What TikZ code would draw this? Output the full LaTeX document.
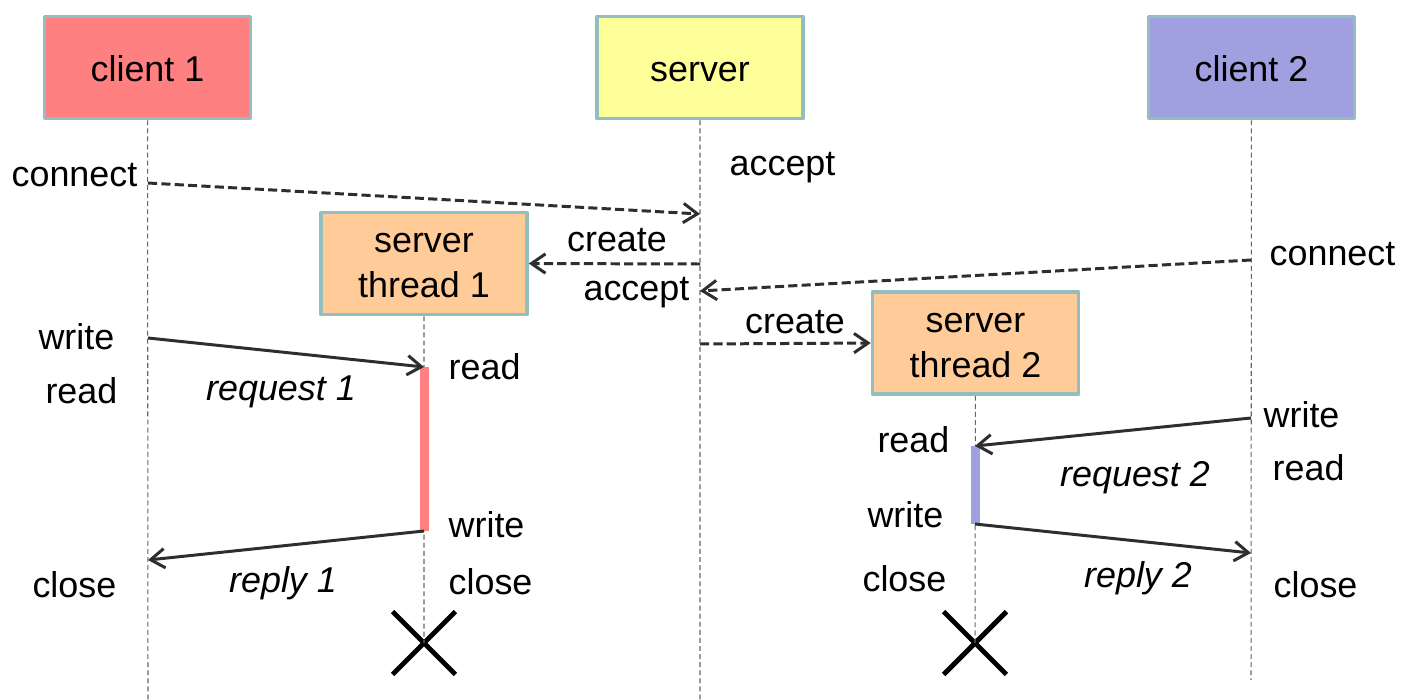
\documentclass[tikz,border=0pt]{standalone}
\usepackage{fontspec}
\setmainfont{Liberation Sans}
\usetikzlibrary{arrows.meta,shapes.misc}
\definecolor{boxedge}{RGB}{147,190,190}
\definecolor{cliA}{RGB}{255,128,128}
\definecolor{srvfill}{RGB}{255,255,153}
\definecolor{cliB}{RGB}{160,160,224}
\definecolor{thrfill}{RGB}{255,204,153}
\begin{document}
\begin{tikzpicture}[x=0.01cm,y=-0.01cm,font=\fontsize{10.2}{12.8}\selectfont,line join=round,
		obj/.style={draw=boxedge,line width=1pt,minimum width=2.06cm,minimum height=1.02cm,align=center,inner sep=0pt,text height=10.4pt,text depth=2.2pt},
		thr/.style={obj,fill=thrfill,text height=21.8pt},
		life/.style={draw=black!60,line width=0.3pt,dash pattern=on 1.4pt off 0.9pt},
		msg/.style={draw=black!82,line width=0.85pt,-{Straight Barb[length=4pt,width=5.5pt]}},
		call/.style={msg,dash pattern=on 2.6pt off 1.2pt},
		lbl/.style={inner sep=0pt},
		kill/.style={draw,cross out,line width=1.4pt,minimum size=0.58cm,inner sep=0pt}]
	\useasboundingbox (0,0) rectangle (1412,700);
	% objects
	\node[obj,fill=cliA] (c1) at (147.5,67.5) {client 1};
	\node[obj,fill=srvfill] (srv) at (700,67.5) {server};
	\node[obj,fill=cliB] (c2) at (1251.5,67.5) {client 2};
	\node[thr] (t1) at (424,263.5) {server\\thread 1};
	\node[thr] (t2) at (975.5,343) {server\\thread 2};
	\node[kill] (x1) at (424,643) {};
	\node[kill] (x2) at (975,643) {};
	% lifelines
	\coordinate (c1end) at (148,700);
	\coordinate (srvend) at (700,700);
	\coordinate (c2end) at (1251,680);
	\draw[life] (c1) -- (c1end) (srv) -- (srvend) (c2) -- (c2end);
	\draw[life] (t1) -- (x1.center) (t2) -- (x2.center);
	% message ends
	\coordinate (conA) at (148,183);  \coordinate (accA) at (700,214);
	\coordinate (creA) at (700,264);
	\coordinate (conB) at (1251,260); \coordinate (accB) at (700,291);
	\coordinate (creB) at (700,344);
	\coordinate (wrA) at (148,338);   \coordinate (rdA) at (424,367);
	\coordinate (wrA2) at (424,531);  \coordinate (rdA2) at (148,560);
	\coordinate (wrB) at (1251,418);  \coordinate (rdB) at (975,446);
	\coordinate (wrB2) at (975,524);  \coordinate (rdB2) at (1251,553);
	% activations
	\draw[cliA,line width=0.09cm] (rdA) -- (wrA2);
	\draw[cliB,line width=0.09cm] (rdB) -- (wrB2);
	% messages
	\draw[call] (conA) -- (accA);
	\draw[call] (creA) -- (t1.east);
	\draw[call] (conB) -- (accB);
	\draw[call] (creB) -- (t2.west);
	\draw[msg] (wrA) -- (rdA);
	\draw[msg] (wrA2) -- (rdA2);
	\draw[msg] (wrB) -- (rdB);
	\draw[msg] (wrB2) -- (rdB2);
	% labels
	\node[lbl,anchor=base east] (lconA) at (138,186) {connect};
	\node[lbl,anchor=base west] (laccA) at (729,175) {accept};
	\node[lbl,anchor=base] (lcreA) at (617,251) {create};
	\node[lbl,anchor=base east] (laccB) at (690,300) {accept};
	\node[lbl,anchor=base west] (lconB) at (1269,265) {connect};
	\node[lbl,anchor=base] (lcreB) at (795,333) {create};
	\node[lbl,anchor=base east] (lwrA) at (115,349) {write};
	\node[lbl,anchor=base east] (lrdA2) at (118,403) {read};
	\node[lbl,anchor=base east] (lclA) at (117,597) {close};
	\node[lbl,anchor=base west] (lrdA) at (448,379) {read};
	\node[lbl,anchor=base west] (lwrA2) at (448,537) {write};
	\node[lbl,anchor=base west] (lclT1) at (448,594) {close};
	\node[lbl,anchor=base] (lreqA) at (281,400) {\itshape request 1};
	\node[lbl,anchor=base] (lrepA) at (283,592) {\itshape reply 1};
	\node[lbl,anchor=base east] (lrdB) at (950,452) {read};
	\node[lbl,anchor=base east] (lwrB2) at (944,527) {write};
	\node[lbl,anchor=base east] (lclT2) at (947,591) {close};
	\node[lbl,anchor=base west] (lwrB) at (1263,427) {write};
	\node[lbl,anchor=base west] (lrdB2) at (1272,480) {read};
	\node[lbl,anchor=base west] (lclB) at (1273,597) {close};
	\node[lbl,anchor=base] (lreqB) at (1135,486) {\itshape request 2};
	\node[lbl,anchor=base] (lrepB) at (1138,587) {\itshape reply 2};
\end{tikzpicture}
\end{document}
